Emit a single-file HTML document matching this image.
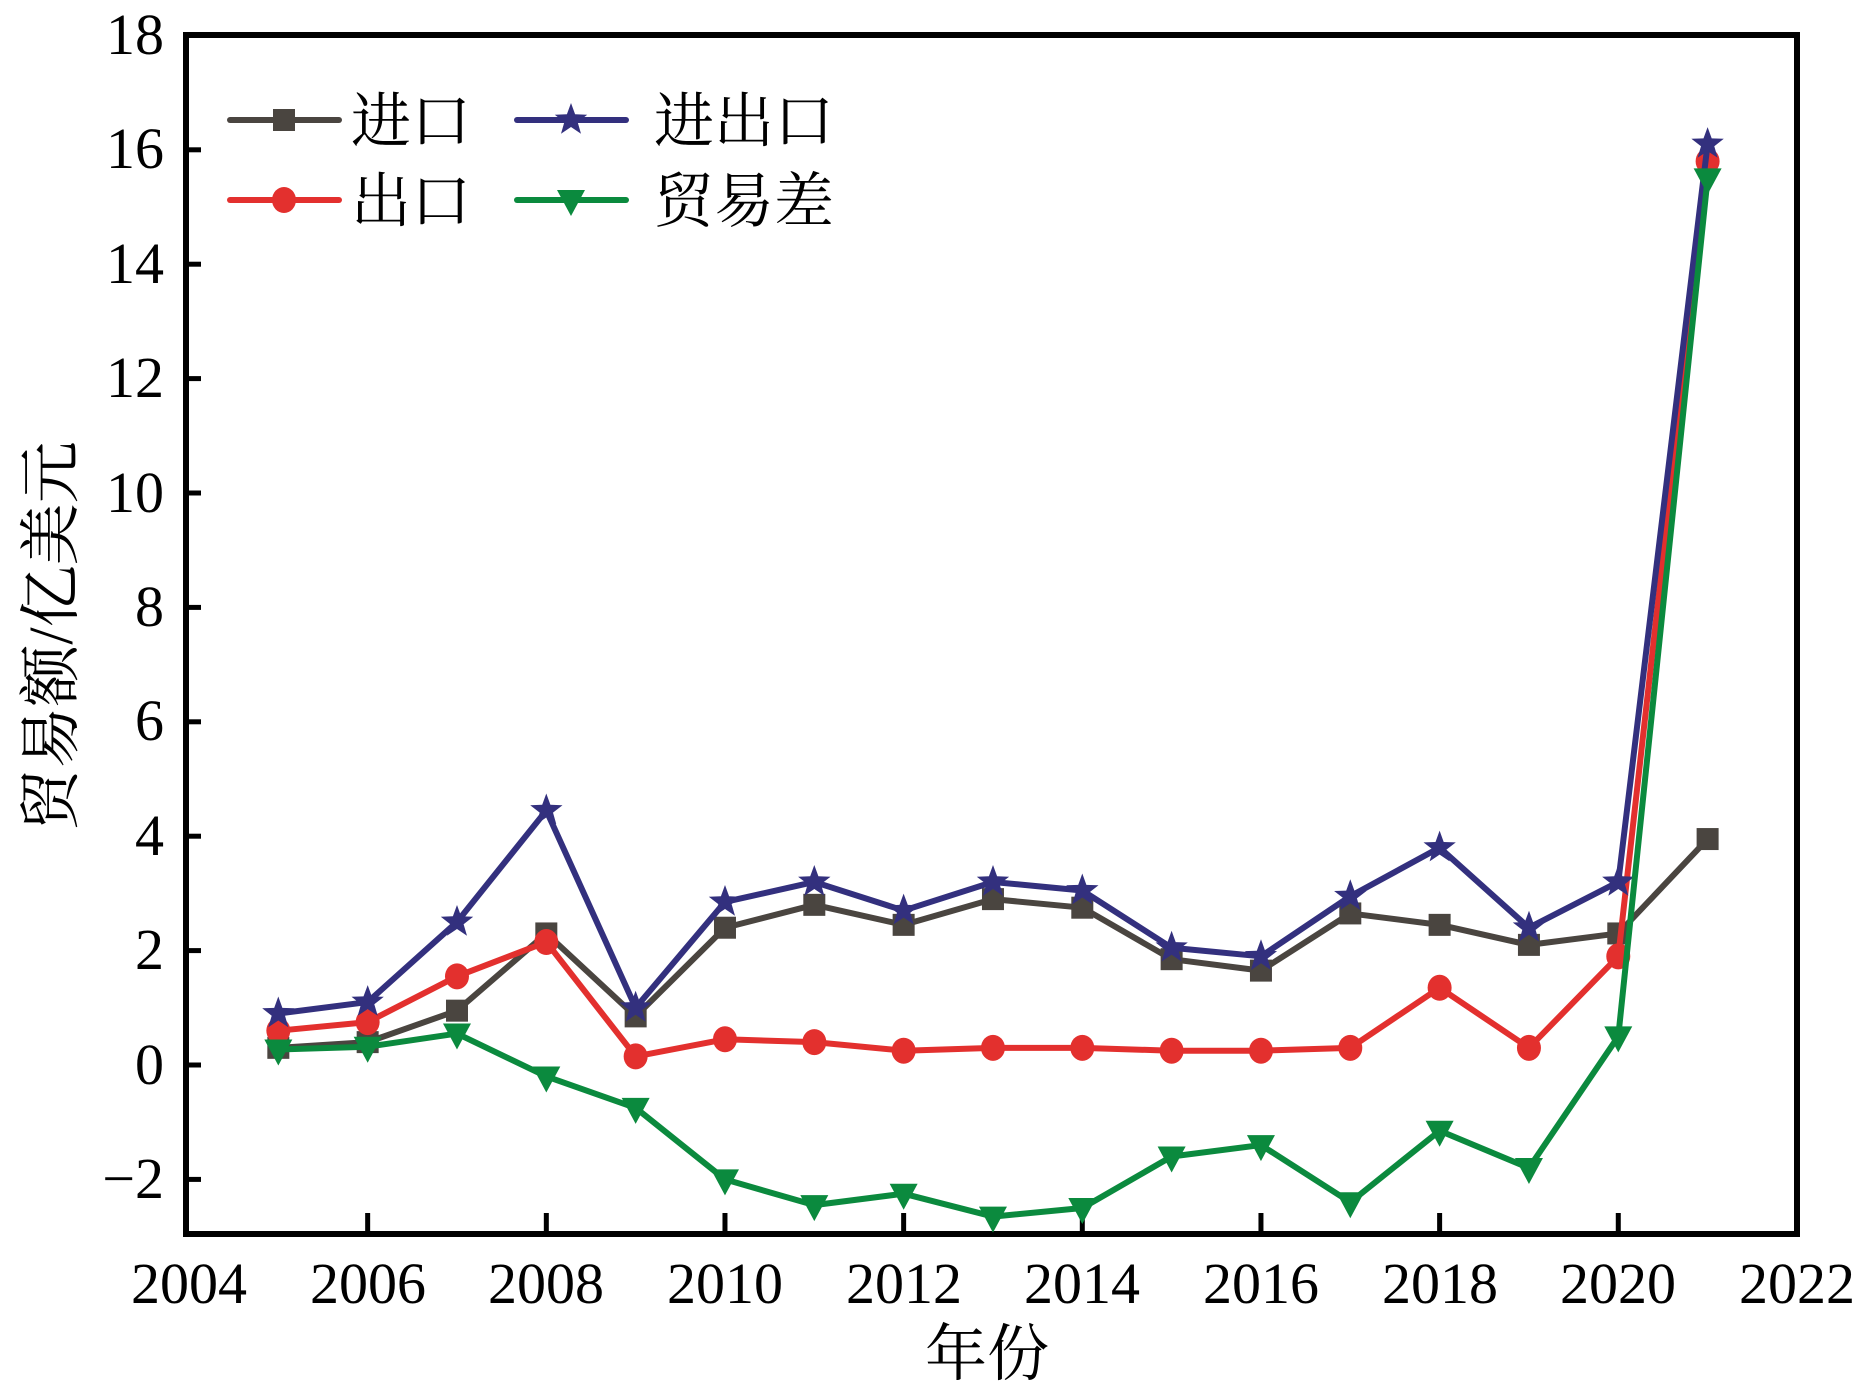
<!DOCTYPE html>
<html><head><meta charset="utf-8"><style>
html,body{margin:0;padding:0;background:#fff}
svg{display:block}
text{font-family:"Liberation Serif","Noto Serif CJK SC",serif;fill:#000}
.cj{font-family:"Liberation Serif","Noto Serif CJK SC","Noto Sans CJK SC",serif}
</style></head><body>
<svg id="s" width="1869" height="1398" viewBox="0 0 1869 1398" xmlns="http://www.w3.org/2000/svg">
<rect x="186" y="35" width="1611" height="1199" fill="none" stroke="#000" stroke-width="6"/>
<g id="ticks" stroke="#000" stroke-width="5"></g>
<g font-size="58" text-anchor="end">
<text x="164" y="54">18</text><text x="164" y="168">16</text><text x="164" y="283">14</text>
<text x="164" y="397">12</text><text x="164" y="512">10</text><text x="164" y="626">8</text>
<text x="164" y="740">6</text><text x="164" y="855">4</text><text x="164" y="969">2</text>
<text x="164" y="1084">0</text><text x="164" y="1198">−2</text>
</g>
<g font-size="58" text-anchor="middle">
<text x="189" y="1303">2004</text><text x="368" y="1303">2006</text><text x="546" y="1303">2008</text>
<text x="725" y="1303">2010</text><text x="904" y="1303">2012</text><text x="1082" y="1303">2014</text>
<text x="1261" y="1303">2016</text><text x="1440" y="1303">2018</text><text x="1618" y="1303">2020</text>
<text x="1797" y="1303">2022</text>
</g>
<text class="cj" x="987" y="1375" font-size="62" text-anchor="middle">年份</text>
<text class="cj" transform="translate(72,636) rotate(-90)" font-size="62" text-anchor="middle">贸易额/亿美元</text>
<g id="plot"></g>
<g id="leg"></g>
<g class="cj" font-size="60">
<text x="351" y="142">进口</text><text x="654" y="142">进出口</text>
<text x="351" y="222">出口</text><text x="654" y="222">贸易差</text>
</g>
</svg>
<script>
const X=y=>189+(y-2004)*89.33, Y=v=>1065-v*57.2;
const NS="http://www.w3.org/2000/svg";
function el(p,t,a){const e=document.createElementNS(NS,t);for(const k in a)e.setAttribute(k,a[k]);p.appendChild(e);return e;}
const tk=document.getElementById('ticks');
for(let v=-2;v<=16;v+=2)el(tk,'line',{x1:186,x2:201,y1:Y(v),y2:Y(v)});
for(let y=2006;y<=2020;y+=2)el(tk,'line',{x1:X(y),x2:X(y),y1:1234,y2:1213});
const S=[
{c:'#4a4540',m:'sq',d:[0.3,0.4,0.95,2.3,0.85,2.4,2.8,2.45,2.9,2.75,1.85,1.65,2.65,2.45,2.1,2.3,3.95]},
{c:'#e3302e',m:'ci',d:[0.6,0.75,1.55,2.15,0.15,0.45,0.4,0.25,0.3,0.3,0.25,0.25,0.3,1.35,0.3,1.9,15.8]},
{c:'#33307e',m:'st',d:[0.9,1.1,2.5,4.45,1.0,2.85,3.2,2.7,3.2,3.05,2.05,1.9,2.95,3.8,2.4,3.2,16.1]},
{c:'#0b8a3e',m:'tr',d:[0.27,0.32,0.55,-0.2,-0.75,-2.0,-2.45,-2.25,-2.65,-2.5,-1.6,-1.4,-2.4,-1.15,-1.8,0.5,15.5]}];
function mk(g,m,x,y,c){
 if(m=='sq')el(g,'rect',{x:x-11,y:y-11,width:22,height:22,fill:c});
 else if(m=='ci')el(g,'ellipse',{cx:x,cy:y,rx:12,ry:13,fill:c});
 else if(m=='tr')el(g,'polygon',{points:`${x-14},${y-10} ${x+14},${y-10} ${x},${y+16}`,fill:c});
 else{let p=[];for(let i=0;i<10;i++){const r=i%2?7:17,a=-Math.PI/2+i*Math.PI/5;p.push((x+r*Math.cos(a)).toFixed(1)+','+(y+r*Math.sin(a)).toFixed(1));}el(g,'polygon',{points:p.join(' '),fill:c});}
}
const pl=document.getElementById('plot');
S.forEach(s=>{const pts=s.d.map((v,i)=>X(2005+i)+','+Y(v)).join(' ');
 el(pl,'polyline',{points:pts,fill:'none',stroke:s.c,'stroke-width':6,'stroke-linejoin':'round'});
 s.d.forEach((v,i)=>mk(pl,s.m,X(2005+i),Y(v),s.c));});
const lg=document.getElementById('leg');
[[230,339,284,120,0],[230,339,284,200,1],[517,626,571,120,2],[517,626,571,200,3]].forEach(a=>{
 const s=S[a[4]];el(lg,'line',{x1:a[0],x2:a[1],y1:a[3],y2:a[3],stroke:s.c,'stroke-width':6,'stroke-linecap':'round'});mk(lg,s.m,a[2],a[3],s.c);});
</script>
</body></html>
